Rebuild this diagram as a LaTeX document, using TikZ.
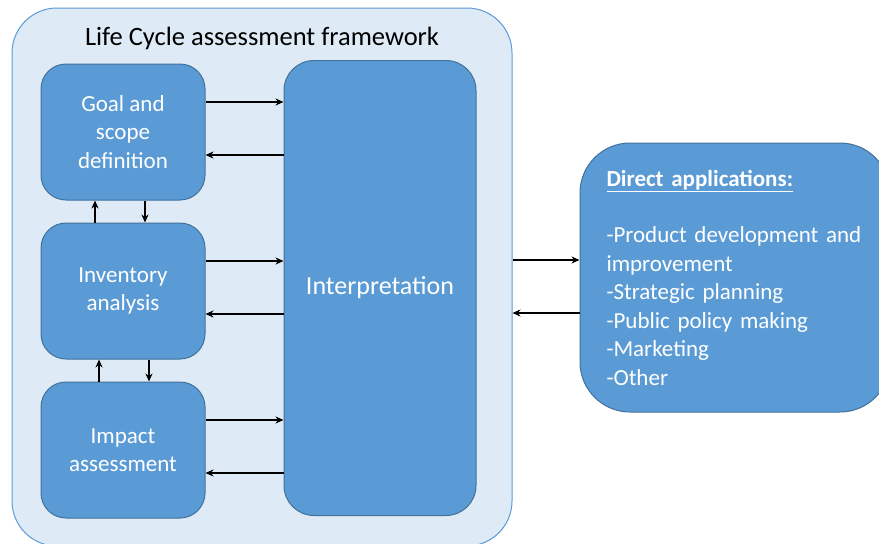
\documentclass[tikz,border=0pt]{standalone}
\usepackage{fontspec}
\setmainfont{Carlito}
\usetikzlibrary{positioning}
\usetikzlibrary{arrows.meta}
\definecolor{boxblue}{HTML}{5B9BD5}
\definecolor{boxedge}{HTML}{41719C}
\definecolor{framefill}{HTML}{DEEBF7}
\tikzset{
  stage/.style={rectangle, rounded corners=25pt, draw=boxedge, fill=boxblue,
    text=white, align=center, inner sep=0pt, line width=1pt,
    font=\fontsize{23}{28.5}\selectfont,
    minimum width=164pt, minimum height=136pt},
  link/.style={->, line width=1.5pt},
}
\begin{document}
\begin{tikzpicture}[>={Stealth[length=8pt,width=7pt]},x=1pt,y=-1pt]
                        \useasboundingbox (0,0) rectangle (879,544);
                        % outer frame
                        \node[rectangle, rounded corners=45pt, draw=boxblue, fill=framefill,
                            line width=1pt, minimum width=500pt, minimum height=538pt] (frame) at (262,277) {};
                        \node[font=\fontsize{26.5}{30}\selectfont] (title) at (262,38) {Life Cycle assessment framework};
                        % stages
                        \node[stage] (goal) at (123,132) {Goal and\\scope\\definition};
                        \node[stage, below=22pt of goal] (inventory) {Inventory\\analysis};
                        \node[stage, below=22pt of inventory] (impact) {Impact\\assessment};
                        \node[stage, rounded corners=30pt, minimum width=192pt, minimum height=455pt,
                            font=\fontsize{26}{30}\selectfont] (interp) at (380,288) {Interpretation};
                        \node[stage, rounded corners=50pt, minimum width=310pt, minimum height=269pt,
                            align=left, text width=257pt, inner xsep=26pt] (direct) at (735,277.5)
                            {\underline{\textbf{Direct applications:}}\\[28pt]
                             -Product development and\\improvement\\-Strategic planning\\
                             -Public policy making\\-Marketing\\-Other};
                        % arrows to and from interpretation
                        \foreach \s in {goal,inventory,impact}{
                            \draw[link] ([yshift=30pt]\s.east) -- ([yshift=30pt]\s.east -| interp.west);
                            \draw[link] ([yshift=-23pt]\s.east -| interp.west) -- ([yshift=-23pt]\s.east);
                        }
                        % arrows between stages
                        \draw[link] ([xshift=-28pt]inventory.north) -- ([xshift=-28pt]goal.south);
                        \draw[link] ([xshift=22pt]goal.south) -- ([xshift=22pt]inventory.north);
                        \draw[link] ([xshift=-24pt]impact.north) -- ([xshift=-24pt]inventory.south);
                        \draw[link] ([xshift=26pt]inventory.south) -- ([xshift=26pt]impact.north);
                        % applications
                        \draw[link] (frame.east |- 0,260) -- (direct.west |- 0,260);
                        \draw[link] (direct.west |- 0,313) -- (frame.east |- 0,313);
                    \end{tikzpicture}
\end{document}
